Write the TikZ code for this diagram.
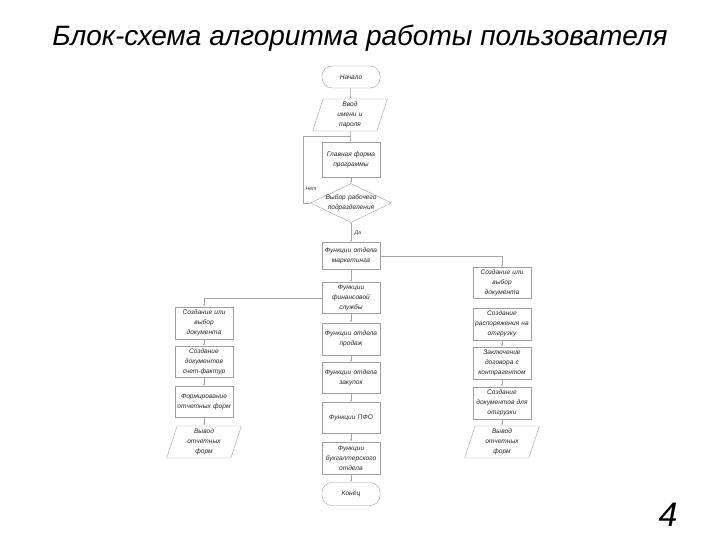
\documentclass[tikz,border=0pt]{standalone}
\usepackage{fontspec}
\setmainfont{Liberation Sans}
\usetikzlibrary{shapes.geometric,arrows.meta}

\tikzset{
  box/.style={rectangle, draw=gray!75, text=black!85, minimum width=58pt, text width=57pt, align=center, inner sep=0.5pt, font=\fontsize{6.6}{10}\selectfont\itshape},
  term/.style={box, rounded corners=10pt, minimum height=22pt},
  io/.style={box, trapezium, trapezium left angle=72, trapezium right angle=108, trapezium stretches=true, minimum width=75pt, text width=44pt, minimum height=32pt},
  choice/.style={box, diamond, minimum width=81pt, minimum height=39pt, text width=54pt, inner sep=-2.5pt, aspect=2},
  arrow/.style={-{Latex[length=2.5pt,width=2pt]}, gray!70, line width=0.5pt},
}

\begin{document}
\begin{tikzpicture}[x=1pt, y=-1pt,
  lbl/.style={font=\fontsize{5.2}{6}\selectfont\itshape, text=black!80, inner sep=0pt}
]
  \useasboundingbox (0,0) rectangle (720,540);
  \node[font=\fontsize{28}{32}\selectfont\itshape] (title) at (360,38) {Блок-схема алгоритма работы пользователя};
  \node[font=\fontsize{34}{38}\selectfont\itshape] (page) at (668,515) {4};

  % main column
  \node[term] (start) at (351,77) {Начало};
  \node[io] (input) at (350,115) {Ввод\\имени и\\пароля};
  \node[box, minimum height=35pt] (main) at (351,160) {Главная форма\\программы};
  \node[choice] (select) at (351,203) {Выбор рабочего\\подразделения};
  \node[box, minimum height=27pt] (mkt) at (351,256) {Функции отдела\\маркетинга};
  \node[box, minimum height=31pt] (fin) at (351,298) {Функции\\финансовой\\службы};
  \node[box, minimum height=32pt] (sales) at (351,339) {Функции отдела\\продаж};
  \node[box, minimum height=31pt] (buy) at (351,378) {Функции отдела\\закупок};
  \node[box, minimum height=31pt] (pfo) at (351,418) {Функции ПФО};
  \node[box, minimum height=32pt] (acc) at (351,458) {Функции\\бухгалтерского\\отдела};
  \node[term, minimum height=23pt] (stop) at (351,494) {Конец};

  % right column
  \node[box, minimum height=31pt] (r1) at (502,283) {Создание или\\выбор\\документа};
  \node[box, minimum height=32pt] (r2) at (502,324) {Создание\\распоряжения на\\отгрузку};
  \node[box, minimum height=32pt] (r3) at (502,363) {Заключение\\договора с\\контрагентом};
  \node[box, minimum height=32pt] (r4) at (502,403) {Создание\\документов для\\отгрузки};
  \node[io] (r5) at (502,442) {Вывод\\отчетных\\форм};

  % left column
  \node[box, minimum height=32pt] (l1) at (204,323) {Создание или\\выбор\\документа};
  \node[box, minimum height=31pt] (l2) at (204,362) {Создание\\документов\\счет-фактур};
  \node[box, minimum height=31pt] (l3) at (204,402) {Формирование\\отчетных форм};
  \node[io] (l4) at (204,442) {Вывод\\отчетных\\форм};

  \coordinate (join) at (351,136);
  \node[lbl] (no) at (311,189) {Нет};
  \node[lbl] (yes) at (358,233) {Да};

  \draw[arrow] (start) -- (input);
  \draw[arrow] (input) -- (main);
  \draw[arrow] (main) -- (select);
  \draw[gray!70, line width=0.5pt] (select.west) -- ++(-7,0) |- (join);
  \draw[arrow] (select) -- (mkt);
  \draw[arrow] (mkt) -- (fin);
  \draw[arrow] (fin) -- (sales);
  \draw[arrow] (sales) -- (buy);
  \draw[arrow] (buy) -- (pfo);
  \draw[arrow] (pfo) -- (acc);
  \draw[arrow] (acc) -- (stop);
  \draw[arrow] (mkt.east) -| (r1.north);
  \draw[arrow] (r2) -- (r3);
  \draw[arrow] (r3) -- (r4);
  \draw[arrow] (r4) -- (r5);
  \draw[arrow] (fin.west) -| (l1.north);
  \draw[arrow] (l1) -- (l2);
  \draw[arrow] (l2) -- (l3);
  \draw[arrow] (l3) -- (l4);
\end{tikzpicture}
\end{document}
